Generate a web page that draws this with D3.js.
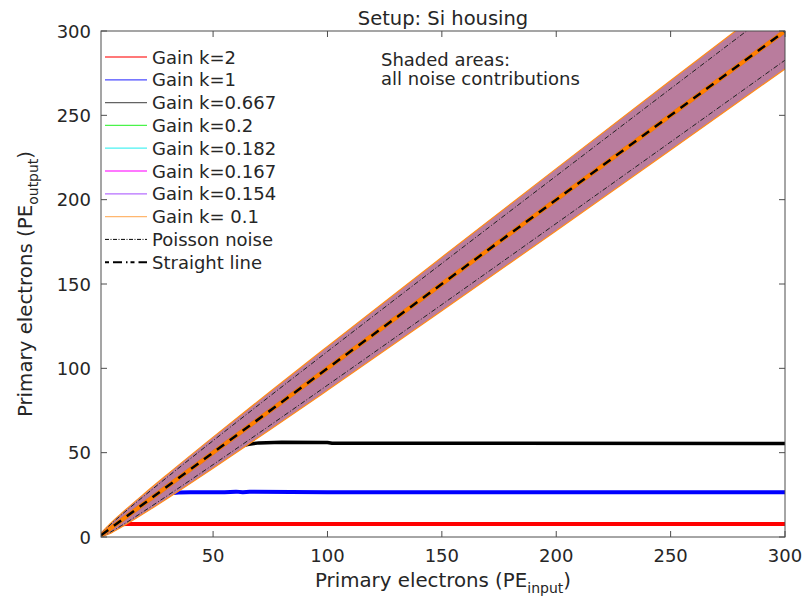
<!DOCTYPE html>
<html>
<head>
<meta charset="utf-8">
<script src="https://cdn.jsdelivr.net/npm/d3@7"></script>
<style>
  body { margin: 0; background: #fff; }
  svg text { font-family: "DejaVu Sans", sans-serif; fill: #262626; }
</style>
</head>
<body>
<svg id="chart" width="804" height="599"></svg>
<script>
// x samples for the band / poisson curves
var bandX      = [1, 5, 10, 20, 30, 50, 75, 100, 150, 200, 250, 300];
var bandUpper  = [2.3, 7.9, 14.1, 25.8, 37.1, 59.2, 86.3, 113, 165.9, 218.4, 270.6, 322.5];
var bandLower  = [0, 2.1, 5.9, 14.2, 22.9, 40.8, 63.7, 87, 134.1, 181.6, 229.4, 277.5];
var poisUpper  = [2, 7.2, 13.2, 24.5, 35.5, 57.1, 83.7, 110, 162.2, 214.1, 265.8, 317.3];
var poisLower  = [0, 2.8, 6.8, 15.5, 24.5, 42.9, 66.3, 90, 137.8, 185.9, 234.2, 282.7];

// saturating gain curves
var redX   = [1, 4, 6, 8, 10, 12, 300];
var redY   = [1, 4, 5.8, 7.1, 7.6, 7.7, 7.7];
var blueX  = [1, 20, 25, 30, 35, 40, 55, 60, 63, 66, 100, 300];
var blueY  = [1, 20, 24.3, 25.8, 26.4, 26.6, 26.6, 26.9, 26.6, 26.8, 26.5, 26.5];
var blackX = [1, 45, 50, 55, 60, 65, 70, 80, 100, 102, 300];
var blackY = [1, 45, 48.5, 51, 53, 54.8, 55.8, 56.2, 56, 55.6, 55.5];
// low gains stay on the diagonal in this range
var linX   = [1, 300];
var linY   = [1, 300];

var legendNames  = ['Gain k=2', 'Gain k=1', 'Gain k=0.667', 'Gain k=0.2', 'Gain k=0.182',
                    'Gain k=0.167', 'Gain k=0.154', 'Gain k= 0.1', 'Poisson noise', 'Straight line'];
var legendColors = ['#ff0000', '#0000ff', '#222222', '#00ee00', '#00eeee', '#ff00ff', '#9933ff', '#ff9933', '#000', '#000'];
var xTicks = [50, 100, 150, 200, 250, 300];
var yTicks = [0, 50, 100, 150, 200, 250, 300];

var L = 101, R = 785, T = 31, B = 537;
var axisColor = '#4d4d4d';

var svg = d3.select('#chart');
var x = d3.scaleLinear().domain([1, 300]).range([L, R]);
var y = d3.scaleLinear().domain([0, 300]).range([B, T]);

svg.append('defs').append('clipPath').attr('id', 'clip')
  .append('rect').attr('x', L).attr('y', T).attr('width', R - L).attr('height', B - T);

var plot = svg.append('g').attr('clip-path', 'url(#clip)');

function zip(xs, ys) { return xs.map(function(v, i) { return [v, ys[i]]; }); }
var line = d3.line().x(function(d) { return x(d[0]); }).y(function(d) { return y(d[1]); });

// saturating curves (under the band)
function curve(xs, ys, col, w) {
  plot.append('path').datum(zip(xs, ys)).attr('d', line)
    .attr('fill', 'none').attr('stroke', col).attr('stroke-width', w)
    .attr('stroke-linejoin', 'round');
}
curve(redX, redY, '#ff0000', 4);
curve(blueX, blueY, '#0000ff', 4);
curve(blackX, blackY, '#000000', 3.5);

// shaded noise band
var area = d3.area()
  .x(function(d) { return x(d[0]); })
  .y0(function(d) { return y(d[2]); })
  .y1(function(d) { return y(d[1]); })
  .curve(d3.curveMonotoneX);
var bandData = bandX.map(function(v, i) { return [v, bandUpper[i], bandLower[i]]; });
plot.append('path').datum(bandData).attr('d', area)
  .attr('fill', '#b97c9d').attr('stroke', 'none');
var smooth = d3.line().x(function(d) { return x(d[0]); }).y(function(d) { return y(d[1]); })
  .curve(d3.curveMonotoneX);
[bandUpper, bandLower].forEach(function(arr) {
  plot.append('path').datum(zip(bandX, arr)).attr('d', smooth)
    .attr('fill', 'none').attr('stroke', '#ff8c1a').attr('stroke-width', 1.2);
});

// poisson noise lines
[poisUpper, poisLower].forEach(function(arr) {
  plot.append('path').datum(zip(bandX, arr)).attr('d', smooth)
    .attr('fill', 'none').attr('stroke', '#222').attr('stroke-width', 1)
    .attr('stroke-dasharray', '5,2,1,2');
});

// low-gain curves, orange on top
['#00ee00', '#00eeee', '#ff00ff', '#9933ff'].forEach(function(c) { curve(linX, linY, c, 4); });
curve(linX, linY, '#ff8000', 4.5);
plot.append('path').datum(zip(linX, linY)).attr('d', line)
  .attr('fill', 'none').attr('stroke', '#000').attr('stroke-width', 2.5)
  .attr('stroke-dasharray', '9,7');

// axes box and ticks
var ax = svg.append('g').attr('stroke', axisColor).attr('fill', 'none');
ax.append('rect').attr('x', L).attr('y', T).attr('width', R - L).attr('height', B - T)
  .attr('stroke-width', 1);
xTicks.forEach(function(t) {
  ax.append('line').attr('x1', x(t)).attr('x2', x(t)).attr('y1', B).attr('y2', B - 6);
  ax.append('line').attr('x1', x(t)).attr('x2', x(t)).attr('y1', T).attr('y2', T + 6);
});
yTicks.forEach(function(t) {
  ax.append('line').attr('x1', L).attr('x2', L + 6).attr('y1', y(t)).attr('y2', y(t));
  ax.append('line').attr('x1', R).attr('x2', R - 6).attr('y1', y(t)).attr('y2', y(t));
});

svg.append('g').selectAll('text').data(xTicks).enter().append('text')
  .attr('x', function(d) { return x(d); }).attr('y', B + 25)
  .attr('text-anchor', 'middle').attr('font-size', 18).text(function(d) { return d; });
svg.append('g').selectAll('text').data(yTicks).enter().append('text')
  .attr('x', L - 10).attr('y', function(d) { return y(d) + 6.5; })
  .attr('text-anchor', 'end').attr('font-size', 18).text(function(d) { return d; });

// axis labels
var xl = svg.append('text').attr('x', (L + R) / 2).attr('y', 587)
  .attr('text-anchor', 'middle').attr('font-size', 19.8);
xl.append('tspan').text('Primary electrons (PE');
xl.append('tspan').attr('font-size', 14).attr('dy', 6).text('input');
xl.append('tspan').attr('dy', -6).text(')');

var yl = svg.append('text').attr('transform', 'translate(32,' + ((T + B) / 2) + ')rotate(-90)')
  .attr('text-anchor', 'middle').attr('font-size', 19.8);
yl.append('tspan').text('Primary electrons (PE');
yl.append('tspan').attr('font-size', 14).attr('dy', 6).text('output');
yl.append('tspan').attr('dy', -6).text(')');

// title and note
svg.append('text').attr('x', 443).attr('y', 25).attr('text-anchor', 'middle')
  .attr('font-size', 19.5).text('Setup: Si housing');
svg.append('text').attr('x', 381).attr('y', 66).attr('font-size', 18).text('Shaded areas:');
svg.append('text').attr('x', 381).attr('y', 85).attr('font-size', 18).text('all noise contributions');

// legend
var lg = svg.append('g');
legendNames.forEach(function(name, i) {
  var yy = 57 + i * 22.8;
  var ln = lg.append('line').attr('x1', 105).attr('x2', 147).attr('y1', yy).attr('y2', yy)
    .attr('stroke', legendColors[i]);
  if (i < 8) ln.attr('stroke-width', 1.3).attr('opacity', 0.7);
  else if (i === 8) ln.attr('stroke-width', 1).attr('stroke-dasharray', '4,1.5,1,1.5');
  else ln.attr('stroke-width', 2).attr('stroke-dasharray', '4,4,9,4,1.5,3');
  lg.append('text').attr('x', 152).attr('y', yy + 6.5).attr('font-size', 18).text(name);
});
</script>
</body>
</html>
